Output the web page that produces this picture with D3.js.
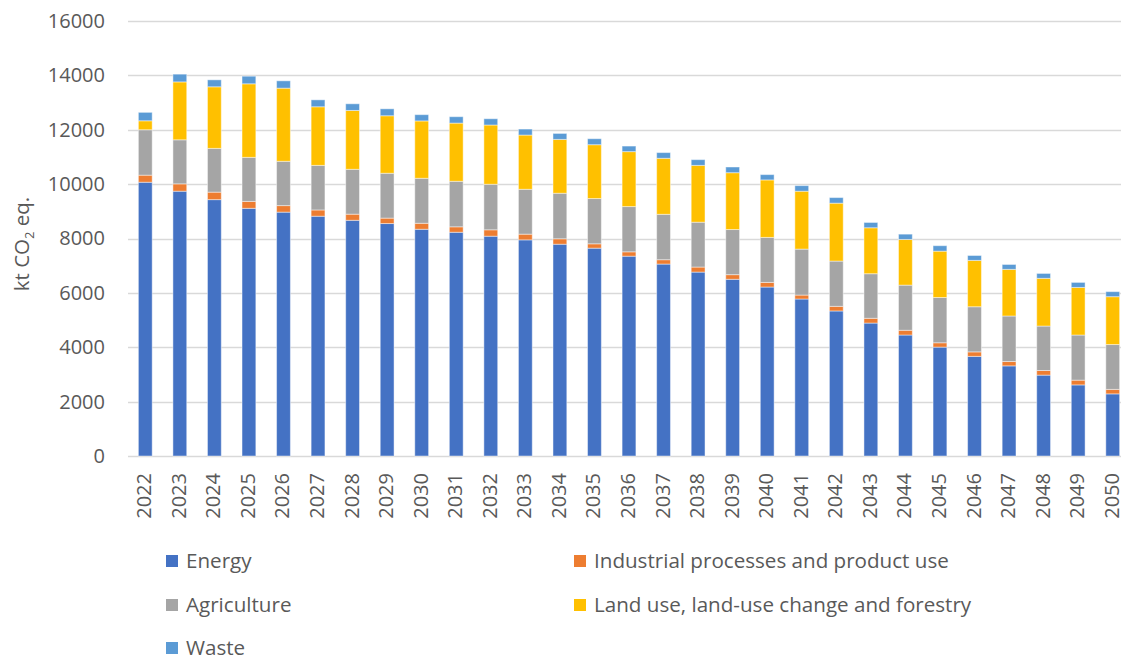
<!DOCTYPE html>
<html>
<head>
<meta charset="utf-8">
<script src="https://cdn.jsdelivr.net/npm/d3@7"></script>
<style>
  html, body { margin: 0; padding: 0; background: #fff; }
  svg { display: block; font-family: "Open Sans", "Noto Sans", sans-serif; }
</style>
</head>
<body>
<svg id="chart" width="1121" height="659"></svg>
<script>
// Greenhouse gas emissions by sector, kt CO2 eq. (stacked)
const years = ["2022","2023","2024","2025","2026","2027","2028","2029","2030","2031","2032","2033","2034","2035","2036","2037","2038","2039","2040","2041","2042","2043","2044","2045","2046","2047","2048","2049","2050"];

const energy      = [10070, 9740, 9430, 9110, 8970, 8820, 8670, 8550, 8340, 8230, 8085, 7950, 7790, 7645, 7350, 7060, 6765, 6500, 6215, 5775, 5335, 4890, 4450, 4005, 3665, 3315, 2975, 2615, 2285];
const industrial  = [260, 270, 275, 255, 240, 230, 225, 200, 220, 200, 235, 210, 200, 160, 160, 160, 185, 170, 170, 145, 170, 175, 175, 160, 165, 160, 170, 175, 165];
const agriculture = [1670, 1620, 1610, 1620, 1630, 1640, 1650, 1650, 1655, 1675, 1675, 1650, 1675, 1665, 1665, 1670, 1650, 1660, 1655, 1690, 1665, 1640, 1660, 1665, 1660, 1675, 1635, 1660, 1650];
const landUse     = [330, 2130, 2265, 2705, 2690, 2155, 2165, 2115, 2110, 2140, 2180, 1995, 1980, 1980, 2020, 2060, 2090, 2090, 2115, 2130, 2130, 1690, 1680, 1705, 1705, 1715, 1755, 1750, 1760];
const waste       = [310, 285, 256, 280, 270, 255, 245, 255, 230, 235, 230, 220, 220, 220, 205, 210, 210, 210, 195, 205, 205, 195, 195, 200, 180, 180, 180, 185, 185];

const seriesNames = ["Energy", "Industrial processes and product use", "Agriculture", "Land use, land-use change and forestry", "Waste"];
const seriesKeys = ["energy", "industrial", "agriculture", "landUse", "waste"];
const seriesColors = ["#4472C4", "#ED7D31", "#A5A5A5", "#FFC000", "#5B9BD5"];
const yTicks = [0, 2000, 4000, 6000, 8000, 10000, 12000, 14000, 16000];

const rows = years.map((y, i) => ({
  year: y,
  energy: energy[i],
  industrial: industrial[i],
  agriculture: agriculture[i],
  landUse: landUse[i],
  waste: waste[i]
}));

const svg = d3.select("#chart");
const textColor = "#595959";
const gridColor = "#d9d9d9";

const plot = { left: 128, right: 1130, top: 21, bottom: 456 };

const x = d3.scaleBand().domain(years).range([plot.left, plot.right]).padding(0);
const barW = x.bandwidth() * 0.4;
const y = d3.scaleLinear().domain([0, 16000]).range([plot.bottom, plot.top]);

// Horizontal gridlines
svg.append("g")
  .selectAll("line")
  .data(yTicks)
  .join("line")
  .attr("x1", plot.left)
  .attr("x2", 1121)
  .attr("y1", d => Math.round(y(d)) + 0.5)
  .attr("y2", d => Math.round(y(d)) + 0.5)
  .attr("stroke", gridColor)
  .attr("stroke-width", 1.3);

// Y axis labels
const yAxis = d3.axisLeft(y).tickValues(yTicks).tickSize(0).tickPadding(0).tickFormat(d3.format("d"));
const yg = svg.append("g").attr("transform", `translate(${plot.left - 23},0)`).call(yAxis);
yg.select(".domain").remove();
yg.selectAll("text")
  .attr("fill", textColor)
  .style("font-size", "20px")
  .style("font-family", "'Open Sans', sans-serif");

// Stacked bars
const stack = d3.stack().keys(seriesKeys);
const layers = stack(rows);

svg.append("g")
  .selectAll("g")
  .data(layers)
  .join("g")
  .attr("fill", (d, i) => seriesColors[i])
  .selectAll("rect")
  .data(d => d)
  .join("rect")
  .attr("x", d => x(d.data.year) + (x.bandwidth() - barW) / 2)
  .attr("width", barW)
  .attr("y", d => y(d[1]))
  .attr("height", d => y(d[0]) - y(d[1]))
  .attr("stroke", "rgba(255,255,255,0.45)")
  .attr("stroke-width", 1);

// X axis labels (rotated)
const xAxis = d3.axisBottom(x).tickSize(0).tickPadding(0);
const xg = svg.append("g").attr("transform", `translate(0,${plot.bottom})`).call(xAxis);
xg.select(".domain").remove();
xg.selectAll("text")
  .attr("fill", textColor)
  .style("font-size", "20px")
  .style("font-family", "'Open Sans', sans-serif")
  .attr("text-anchor", "end")
  .attr("transform", "rotate(-90)")
  .attr("x", -17)
  .attr("y", -1)
  .attr("dy", "0.35em");

// Y axis title
const title = svg.append("text")
  .attr("transform", "translate(29,244) rotate(-90)")
  .attr("text-anchor", "middle")
  .attr("fill", textColor)
  .style("font-size", "20.5px");
title.append("tspan").text("kt CO");
title.append("tspan").text("2").style("font-size", "13px").attr("dy", "5");
title.append("tspan").text(" eq.").attr("dy", "-5");

// Legend
const legendPos = [
  { x: 166, y: 568 },
  { x: 574, y: 568 },
  { x: 166, y: 612 },
  { x: 574, y: 612 },
  { x: 166, y: 655 }
];
const legend = svg.append("g")
  .selectAll("g")
  .data(seriesNames)
  .join("g")
  .attr("transform", (d, i) => `translate(${legendPos[i].x},${legendPos[i].y})`);
legend.append("rect")
  .attr("x", 0)
  .attr("y", -13)
  .attr("width", 12)
  .attr("height", 12)
  .attr("fill", (d, i) => seriesColors[i]);
legend.append("text")
  .attr("x", 20)
  .attr("y", 0)
  .attr("fill", textColor)
  .style("font-size", "20.6px")
  .text(d => d);
</script>
</body>
</html>
